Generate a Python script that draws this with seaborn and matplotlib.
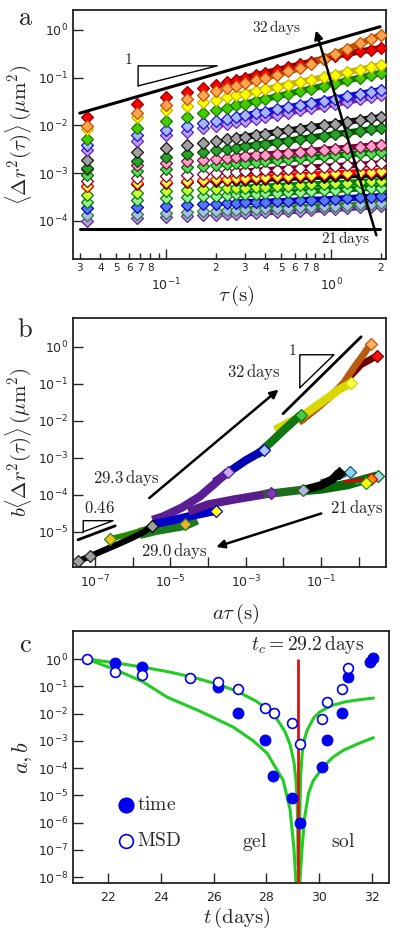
import numpy as np
import matplotlib
matplotlib.use("Agg")
import matplotlib.pyplot as plt
import seaborn as sns
from matplotlib.ticker import LogLocator, FuncFormatter, NullLocator, FixedLocator

# ---------------- panel a : MSD vs lag time ----------------
tau = [0.033, 0.067, 0.1, 0.133, 0.167, 0.2, 0.233, 0.267, 0.3, 0.35, 0.4, 0.467,
       0.55, 0.65, 0.75, 0.9, 1.05, 1.25, 1.5, 1.75, 2.0]

msd_orange = [0.0095, 0.0185, 0.027, 0.0352, 0.0437, 0.0518, 0.0597, 0.0679, 0.0757, 0.0875, 0.099,
              0.115, 0.134, 0.157, 0.192, 0.249, 0.311, 0.399, 0.518, 0.645, 0.78]
msd_red = [0.015, 0.0274, 0.0385, 0.049, 0.0594, 0.0693, 0.079, 0.0887, 0.098, 0.112, 0.125,
           0.143, 0.164, 0.189, 0.213, 0.249, 0.284, 0.315, 0.352, 0.385, 0.417]
msd_yellow = [0.0085, 0.015, 0.021, 0.0258, 0.0303, 0.0346, 0.0386, 0.0426, 0.0463, 0.0517, 0.0569,
              0.0636, 0.0716, 0.0807, 0.0895, 0.102, 0.114, 0.129, 0.147, 0.165, 0.18]
msd_green = [0.0051, 0.0089, 0.0121, 0.0151, 0.0181, 0.0208, 0.0234, 0.0261, 0.0286, 0.0322, 0.0357,
             0.0403, 0.0458, 0.0522, 0.0583, 0.0673, 0.0759, 0.0869, 0.100, 0.113, 0.125]
msd_blue = [0.0039, 0.0062, 0.0080, 0.0096, 0.0111, 0.0125, 0.0138, 0.0150, 0.0162, 0.0179, 0.0195,
            0.0215, 0.0239, 0.0267, 0.0292, 0.0329, 0.0363, 0.0407, 0.0457, 0.0505, 0.055]
msd_purple = [0.0030, 0.0048, 0.0062, 0.0074, 0.0086, 0.0097, 0.0107, 0.0116, 0.0126, 0.0139, 0.0151,
              0.0167, 0.0185, 0.0207, 0.0226, 0.0255, 0.0281, 0.0315, 0.0354, 0.0391, 0.0426]
msd_grey = [0.0019, 0.00272, 0.00332, 0.00383, 0.0043, 0.00471, 0.00508, 0.00544, 0.00577, 0.00624, 0.00667,
            0.00721, 0.00783, 0.00851, 0.00914, 0.0100, 0.0108, 0.0118, 0.0130, 0.0140, 0.015]
msd_dkgreen = [0.0013, 0.00181, 0.00218, 0.00249, 0.00277, 0.00301, 0.00324, 0.00344, 0.00364, 0.00391, 0.00416,
               0.00447, 0.00482, 0.00521, 0.00557, 0.00607, 0.00652, 0.00708, 0.00769, 0.00828, 0.0088]
msd_pink = [0.0012, 0.00147, 0.00165, 0.00179, 0.00191, 0.00201, 0.0021, 0.00219, 0.00226, 0.00236, 0.00245,
            0.00256, 0.00269, 0.00282, 0.00294, 0.0031, 0.00324, 0.0034, 0.00359, 0.00375, 0.0039]
msd_green2 = [0.0009, 0.00109, 0.00122, 0.00132, 0.00141, 0.00148, 0.00155, 0.00161, 0.00166, 0.00173, 0.0018,
              0.00188, 0.00196, 0.00205, 0.00214, 0.00225, 0.00235, 0.00246, 0.00259, 0.0027, 0.0028]
msd_white = [0.0007, 0.00081, 0.00087, 0.00092, 0.00097, 0.0010, 0.00104, 0.00106, 0.00109, 0.00112, 0.00115,
             0.00119, 0.00123, 0.00127, 0.00131, 0.00136, 0.0014, 0.00145, 0.0015, 0.00155, 0.0016]
msd_yelred = [0.00055, 0.00062, 0.00066, 0.0007, 0.00072, 0.00074, 0.00076, 0.00078, 0.0008, 0.00082, 0.00084,
              0.00086, 0.00088, 0.00091, 0.00093, 0.00096, 0.00099, 0.00102, 0.00105, 0.00107, 0.0011]
msd_black = [0.00054, 0.0006, 0.00062, 0.00066, 0.00067, 0.0007, 0.00071, 0.00072, 0.00073, 0.00076, 0.00077,
             0.00078, 0.0008, 0.00082, 0.00084, 0.00085, 0.00088, 0.0009, 0.00092, 0.00094, 0.00096]
msd_lime = [0.00035, 0.00039, 0.00042, 0.00044, 0.00046, 0.00047, 0.00048, 0.00049, 0.0005, 0.00051, 0.00052,
            0.00054, 0.00055, 0.00057, 0.00058, 0.0006, 0.00061, 0.00063, 0.00065, 0.00067, 0.00068]
msd_ltgreen = [0.00025, 0.00028, 0.0003, 0.00032, 0.00033, 0.00034, 0.00035, 0.00036, 0.00036, 0.00037, 0.00038,
               0.00039, 0.0004, 0.00041, 0.00042, 0.00044, 0.00045, 0.00046, 0.00048, 0.00049, 0.0005]
msd_blue2 = [0.00019, 0.0002, 0.00021, 0.00022, 0.00023, 0.00023, 0.00024, 0.00024, 0.00025, 0.00025, 0.00025,
             0.00026, 0.00026, 0.00027, 0.00028, 0.00028, 0.00029, 0.0003, 0.00031, 0.00032, 0.00033]
msd_steel = [0.00013, 0.00014, 0.00015, 0.000155, 0.00016, 0.000165, 0.00017, 0.000172, 0.000175, 0.00018, 0.000183,
             0.000187, 0.00019, 0.000195, 0.0002, 0.000205, 0.00021, 0.000215, 0.000222, 0.00023, 0.00024]
msd_lilac = [0.0001, 0.000113, 0.00012, 0.000126, 0.00013, 0.000134, 0.000138, 0.000141, 0.000144, 0.000148, 0.000152,
             0.000156, 0.00016, 0.000165, 0.00017, 0.000175, 0.00018, 0.000186, 0.000194, 0.0002, 0.00021]

# ---------------- panel b : master curves (a*tau, b*MSD) ----------------
bx_grey = [3.5e-8, 7.4e-8, 1.5e-7, 4e-7, 1e-6, 2e-6, 3.3e-6]
by_grey = [1.6e-6, 2.2e-6, 3e-6, 4.6e-6, 7e-6, 1e-5, 1.45e-5]
bx_greenyel = [3e-6, 1.5e-6, 6e-7, 2.5e-7]
by_greenyel = [1.3e-5, 1.05e-5, 8e-6, 6.5e-6]
bx_purple_up = [3.3e-6, 6.4e-6, 2e-5, 6e-5, 1.5e-4, 3.3e-4]
by_purple_up = [2.1e-5, 2.6e-5, 4.5e-5, 9e-5, 2e-4, 4.2e-4]
bx_blue_up = [1.5e-4, 4e-4, 1e-3, 3e-3]
by_blue_up = [2.2e-4, 4.5e-4, 8.5e-4, 1.6e-3]
bx_green_up = [2e-3, 5e-3, 1.2e-2, 2.9e-2]
by_green_up = [1.2e-3, 2.8e-3, 6.5e-3, 1.45e-2]
bx_yellow_up = [6e-3, 0.035, 0.1, 0.3, 0.63]
by_yellow_up = [5.7e-3, 0.0145, 0.031, 0.069, 0.106]
bx_orange_up = [0.026, 0.08, 0.2, 0.41, 0.8, 1.4, 2.1]
by_orange_up = [0.009, 0.022, 0.05, 0.11, 0.3, 0.65, 1.2]
bx_red_up = [0.03, 0.1, 0.3, 0.6, 1.17, 3.1]
by_red_up = [0.01, 0.028, 0.07, 0.16, 0.33, 0.57]
bx_green_lo = [1.5e-6, 4e-6, 1e-5, 2.5e-5, 5e-5]
by_green_lo = [9e-6, 1.15e-5, 1.35e-5, 1.6e-5, 2.2e-5]
bx_blue_lo = [3.5e-6, 1e-5, 3e-5, 8e-5, 1.6e-4]
by_blue_lo = [1.6e-5, 2e-5, 2.6e-5, 3.2e-5, 3.7e-5]
bx_purple_lo = [3e-5, 1e-4, 5e-4, 2e-3, 4.6e-3]
by_purple_lo = [3.5e-5, 5.5e-5, 7.5e-5, 9.5e-5, 1.1e-4]
bx_dkgreen_lo = [3e-3, 8e-3, 0.033]
by_dkgreen_lo = [1.05e-4, 1.15e-4, 1.37e-4]
bx_green2_lo = [0.03, 0.1, 0.5, 1.5, 3.2]
by_green2_lo = [1.3e-4, 1.45e-4, 1.9e-4, 2.6e-4, 3.2e-4]
bx_black_lo = [0.04, 0.1, 0.2, 0.3]
by_black_lo = [1.4e-4, 1.8e-4, 2.6e-4, 3.9e-4]
bx_teal_lo = [0.1, 0.3, 0.59]
by_teal_lo = [2.2e-4, 3e-4, 4.2e-4]
bx_red_lo = [0.4, 1.0, 2.2]
by_red_lo = [2.3e-4, 2.5e-4, 2.7e-4]
bx_yellow_lo = [0.8, 1.6]
by_yellow_lo = [2.0e-4, 2.1e-4]

# ---------------- panel c : shift factors vs age ----------------
t_time = [22.27, 23.29, 26.17, 26.93, 27.96, 28.26, 28.98, 29.29, 30.12, 30.31, 30.88, 31.11, 31.94, 32.06]
ab_time = [0.71, 0.51, 0.093, 0.0103, 1.05e-3, 5e-5, 7.8e-6, 1e-6, 1.07e-4, 1.05e-3, 0.0103, 0.22, 0.78, 1.1]
t_msd = [21.20, 22.27, 23.29, 25.11, 26.17, 26.93, 27.96, 28.30, 28.98, 29.29, 30.12, 30.31, 30.88, 31.11]
ab_msd = [1.0, 0.33, 0.26, 0.2, 0.14, 0.079, 0.016, 0.0103, 0.0045, 7.5e-4, 0.0062, 0.026, 0.079, 0.47]
t_c = 29.2
fit_gel_b_t = [21.2, 22.3, 23.3, 24.3, 25.2, 26.2, 26.9, 27.6, 28.0, 28.4, 28.7, 28.9, 29.05, 29.12, 29.16, 29.18, 29.19, 29.197]
fit_gel_b_v = [1.0, 0.72, 0.51, 0.34, 0.218, 0.116, 0.065, 0.029, 0.0154, 0.0063, 0.00224, 7.3e-4, 1.6e-4, 4e-5,
               8.7e-6, 1.9e-6, 4.1e-7, 2.9e-8]
fit_gel_a_t = [21.2, 22.3, 23.3, 24.24, 25.5, 26.74, 27.5, 28.03, 28.64, 28.9, 29.05, 29.12]
fit_gel_a_v = [1.0, 0.4, 0.15, 0.04, 0.012, 3.2e-3, 1.0e-3, 3.5e-4, 3.5e-5, 3e-6, 1e-7, 7e-9]
fit_sol_b_t = [29.24, 29.26, 29.3, 29.36, 29.45, 29.55, 29.8, 30.05, 30.5, 31.0, 31.5, 32.06]
fit_sol_b_v = [7e-9, 1e-6, 5e-5, 3.5e-4, 1.2e-3, 2.5e-3, 7e-3, 0.012, 0.02, 0.027, 0.032, 0.037]
fit_sol_a_t = [29.27, 29.35, 29.45, 29.6, 29.78, 30.16, 30.5, 30.92, 31.5, 32.06]
fit_sol_a_v = [7e-9, 1e-7, 1.5e-6, 1.2e-5, 3.5e-5, 1.1e-4, 2.4e-4, 4.5e-4, 8e-4, 1.3e-3]

# ---------------- styles ----------------
face_a = ['#ffa54f', '#ff0000', '#ffff00', '#44cc00', '#aab4ff', '#b9a0ff', '#a0a0a0', '#2ca02c', '#ff9ec8',
          '#55dd55', '#ffffff', '#ffff40', '#000000', '#ccff33', '#98f098', '#5577ff', '#a6c0e8', '#b399e6']
edge_a = ['#c05000', '#8b0000', '#c8b400', '#1a7a00', '#1010d0', '#6a1fb0', '#111111', '#005000', '#7a0a3c',
          '#007000', '#700030', '#ff0000', '#000000', '#008000', '#007a00', '#0000b0', '#2e7d32', '#5b2c8f']

sns.set_style("ticks")
plt.rcParams['mathtext.fontset'] = 'cm'
plt.rcParams['font.family'] = ['DejaVu Sans']


def dec_fmt(v, pos):
    e = int(round(np.log10(v)))
    return r'$\mathregular{10^{%d}}$' % e


def odd_dec_fmt(v, pos):
    e = int(round(np.log10(v)))
    return r'$\mathregular{10^{%d}}$' % e if e % 2 != 0 else ''


def digit_fmt(v, pos):
    d = int(round(v / 10 ** np.floor(np.log10(v) + 1e-9)))
    return '%d' % d if 2 <= d <= 8 else ''


def style_ax(ax):
    for s in ax.spines.values():
        s.set_visible(True)
        s.set_linewidth(1.3)
        s.set_color('#222222')
    ax.tick_params(which='both', direction='in', top=False, right=False, labelsize=9, width=1.0)
    ax.tick_params(which='major', length=7)
    ax.tick_params(which='minor', length=4)


fig = plt.figure(figsize=(4.0, 9.39), dpi=100)
ax_a = fig.add_axes([0.1825, 0.7242, 0.7825, 0.2652])
ax_b = fig.add_axes([0.1825, 0.3962, 0.7825, 0.2652])
ax_c = fig.add_axes([0.1825, 0.0596, 0.79, 0.2684])

# ---- panel a
ax = ax_a
ax.set_xscale('log')
ax.set_yscale('log')
msd_a = [msd_orange, msd_red, msd_yellow, msd_green, msd_blue, msd_purple, msd_grey, msd_dkgreen, msd_pink,
         msd_green2, msd_white, msd_yelred, msd_black, msd_lime, msd_ltgreen, msd_blue2, msd_steel, msd_lilac]
order = list(range(len(msd_a)))[::-1]
for i in order:
    sns.lineplot(x=tau[7:], y=msd_a[i][7:], ax=ax, color=edge_a[i], lw=4.5, sort=False,
                 estimator=None, legend=False, zorder=2)
for i in order:
    sns.lineplot(x=tau, y=msd_a[i], ax=ax, lw=0, marker='D', markersize=6, markerfacecolor=face_a[i],
                 markeredgecolor=edge_a[i], markeredgewidth=0.9, sort=False, estimator=None,
                 legend=False, zorder=3)
ax.plot([0.030, 1.98], [0.018, 1.16], color='black', lw=2.2, zorder=5)
ax.plot([0.030, 1.98], [6.8e-5, 6.8e-5], color='black', lw=2.2, zorder=5)
ax.plot([0.0677, 0.0677, 0.204, 0.0677], [0.067, 0.176, 0.176, 0.067], color='black', lw=1.0, zorder=5)
ax.text(0.176, 0.803, r'$1$', transform=ax.transAxes, fontsize=11, ha='center', va='center')
ax.annotate('', xy=(0.80, 1.1), xytext=(1.90, 4.4e-5),
            arrowprops=dict(arrowstyle='-|>', color='black', lw=1.8, mutation_scale=12), zorder=6)
ax.text(0.652, 0.928, r'$32\,\mathrm{days}$', transform=ax.transAxes, fontsize=11, ha='center', va='center')
ax.text(0.872, 0.084, r'$21\,\mathrm{days}$', transform=ax.transAxes, fontsize=11, ha='center', va='center')
ax.set_xlim(0.0273, 2.15)
ax.set_ylim(1.6e-5, 2.6)
ax.xaxis.set_major_locator(LogLocator(base=10))
ax.xaxis.set_minor_locator(LogLocator(base=10, subs=np.arange(2, 10)))
ax.xaxis.set_major_formatter(FuncFormatter(dec_fmt))
ax.xaxis.set_minor_formatter(FuncFormatter(digit_fmt))
ax.yaxis.set_major_locator(FixedLocator([1e-4, 1e-3, 1e-2, 1e-1, 1e0]))
ax.yaxis.set_major_formatter(FuncFormatter(dec_fmt))
ax.yaxis.set_minor_locator(NullLocator())
style_ax(ax)
ax.tick_params(axis='x', which='major', pad=13)
ax.tick_params(axis='x', which='minor', pad=3, labelsize=7.5)
ax.set_xlabel(r'$\tau\,(\mathrm{s})$', fontsize=15)
ax.set_ylabel(r'$\langle\Delta r^2(\tau)\rangle\,(\mu\mathrm{m}^2)$', fontsize=15)
ax.xaxis.set_label_coords(0.52, -0.10)
ax.yaxis.set_label_coords(-0.125, 0.5)

# ---- panel b
ax = ax_b
ax.set_xscale('log')
ax.set_yscale('log')
segs_b = [
    (bx_red_up, by_red_up, '#ff1010', '#700000', 5, -1),
    (bx_orange_up, by_orange_up, '#ffb060', '#b85a10', 5, -1),
    (bx_yellow_up, by_yellow_up, '#ffff50', '#d8d800', 6, -1),
    (bx_green_up, by_green_up, '#44cc44', '#117711', 6, -1),
    (bx_blue_up, by_blue_up, '#a8c8ff', '#0000b4', 6, -1),
    (bx_purple_up, by_purple_up, '#c8a8f0', '#5a1e96', 6, -1),
    (bx_green_lo, by_green_lo, '#f0b030', '#1e7a1e', 8, 3),
    (bx_blue_lo, by_blue_lo, '#ffff00', '#0000c8', 6, -1),
    (bx_purple_lo, by_purple_lo, '#7a3ab0', '#5a1e8c', 6, -1),
    (bx_dkgreen_lo, by_dkgreen_lo, '#c0b0e8', '#1e6e1e', 6, -1),
    (bx_green2_lo, by_green2_lo, '#a8d8f0', '#0a6a0a', 7, -1),
    (bx_teal_lo, by_teal_lo, '#8ad8f8', '#1a5a7a', 4, -1),
    (bx_black_lo, by_black_lo, '#000000', '#000000', 6, -1),
    (bx_red_lo, by_red_lo, '#ff8c00', '#e00000', 2, -1),
    (bx_yellow_lo, by_yellow_lo, '#ffff00', '#2a8a2a', 2, -1),
    (bx_greenyel, by_greenyel, '#f0c020', '#2a8a00', 4, -1),
    (bx_grey, by_grey, '#a0a0a0', '#000000', 4.5, -1),
]
for xs, ys, fc, ec, lw, k in segs_b:
    sns.lineplot(x=xs, y=ys, ax=ax, color=ec, lw=lw, sort=False, estimator=None, legend=False,
                 solid_capstyle='butt', zorder=2)
    sns.lineplot(x=[xs[k]], y=[ys[k]], ax=ax, lw=0, marker='D', markersize=6, markerfacecolor=fc,
                 markeredgecolor=ec, markeredgewidth=0.9, estimator=None, legend=False, zorder=3)
sns.lineplot(x=bx_grey[:2], y=by_grey[:2], ax=ax, lw=0, marker='D', markersize=6, markerfacecolor='#a0a0a0',
             markeredgecolor='#222222', markeredgewidth=0.9, estimator=None, legend=False, zorder=3)
ax.plot([0.0098, 1.17], [0.0155, 1.86], color='black', lw=2.0, zorder=5)
ax.plot([0.0275, 0.0275, 0.222, 0.0275], [0.078, 0.61, 0.61, 0.078], color='black', lw=1.0, zorder=5)
ax.text(0.70, 0.871, r'$1$', transform=ax.transAxes, fontsize=11, ha='center', va='center')
ax.annotate('', xy=(8.5e-3, 0.078), xytext=(2.4e-6, 7.3e-5),
            arrowprops=dict(arrowstyle='-|>', color='black', lw=1.8, mutation_scale=12), zorder=6)
ax.annotate('', xy=(1.4e-4, 3.7e-6), xytext=(0.12, 3.3e-5),
            arrowprops=dict(arrowstyle='-|>', color='black', lw=1.8, mutation_scale=12), zorder=6)
ax.plot([4.8e-8, 4.8e-8, 3e-7, 4.8e-8], [1e-5, 2e-5, 2e-5, 1e-5], color='black', lw=1.0, zorder=5)
ax.plot([3.5e-8, 3.4e-7], [6.1e-6, 1.45e-5], color='black', lw=2.0, zorder=5)
ax.text(0.578, 0.783, r'$32\,\mathrm{days}$', transform=ax.transAxes, fontsize=12, ha='center', va='center')
ax.text(0.169, 0.357, r'$29.3\,\mathrm{days}$', transform=ax.transAxes, fontsize=12, ha='center', va='center')
ax.text(0.086, 0.237, r'$0.46$', transform=ax.transAxes, fontsize=12, ha='center', va='center')
ax.text(0.907, 0.237, r'$21\,\mathrm{days}$', transform=ax.transAxes, fontsize=12, ha='center', va='center')
ax.text(0.323, 0.064, r'$29.0\,\mathrm{days}$', transform=ax.transAxes, fontsize=12, ha='center', va='center')
ax.set_xlim(10 ** -7.59, 10 ** 0.73)
ax.set_ylim(10 ** -5.95, 10 ** 0.78)
ax.xaxis.set_major_locator(FixedLocator([10.0 ** e for e in range(-7, 1)]))
ax.xaxis.set_major_formatter(FuncFormatter(odd_dec_fmt))
ax.xaxis.set_minor_locator(NullLocator())
ax.yaxis.set_major_locator(FixedLocator([10.0 ** e for e in range(-5, 1)]))
ax.yaxis.set_major_formatter(FuncFormatter(dec_fmt))
ax.yaxis.set_minor_locator(NullLocator())
style_ax(ax)
ax.tick_params(axis='x', pad=5)
ax.set_xlabel(r'$a\tau\,(\mathrm{s})$', fontsize=15)
ax.set_ylabel(r'$b\langle\Delta r^2(\tau)\rangle\,(\mu\mathrm{m}^2)$', fontsize=15)
ax.xaxis.set_label_coords(0.52, -0.14)
ax.yaxis.set_label_coords(-0.125, 0.5)

# ---- panel c
ax = ax_c
ax.set_yscale('log')
green = '#22cc22'
for tt, vv in [(fit_gel_b_t, fit_gel_b_v), (fit_gel_a_t, fit_gel_a_v),
               (fit_sol_b_t, fit_sol_b_v), (fit_sol_a_t, fit_sol_a_v)]:
    sns.lineplot(x=tt, y=vv, ax=ax, color=green, lw=2.2, sort=False, estimator=None, legend=False, zorder=2)
ax.vlines(t_c, 1e-9, 1.0, color='#dd1111', lw=2.0, zorder=3)
sns.scatterplot(x=t_time, y=ab_time, ax=ax, s=60, color='#0000ee', edgecolor='#0000ee', linewidth=0.8,
                label=r'$\mathrm{time}$', zorder=4)
sns.scatterplot(x=t_msd, y=ab_msd, ax=ax, s=50, facecolor='white', edgecolor='#0000ee', linewidth=1.2,
                label=r'$\mathrm{MSD}$', zorder=5)
ax.set_xlim(20.67, 32.65)
ax.set_ylim(10 ** -8.22, 10 ** 1.03)
ax.xaxis.set_major_locator(FixedLocator([22, 24, 26, 28, 30, 32]))
ax.xaxis.set_major_formatter(FuncFormatter(lambda v, p: '%d' % v))
ax.yaxis.set_major_locator(FixedLocator([10.0 ** e for e in range(-8, 1)]))
ax.yaxis.set_major_formatter(FuncFormatter(dec_fmt))
ax.yaxis.set_minor_locator(NullLocator())
style_ax(ax)
ax.tick_params(axis='x', pad=6)
ax.text(0.741, 0.944, r'$t_c = 29.2\,\mathrm{days}$', transform=ax.transAxes, fontsize=14,
        ha='center', va='center')
ax.text(0.576, 0.163, r'$\mathrm{gel}$', transform=ax.transAxes, fontsize=14, ha='center', va='center')
ax.text(0.854, 0.163, r'$\mathrm{sol}$', transform=ax.transAxes, fontsize=14, ha='center', va='center')
leg = ax.legend(loc='center left', bbox_to_anchor=(0.08, 0.24), frameon=False, fontsize=14,
                handletextpad=0.1, labelspacing=0.9, handlelength=1.0, markerscale=1.4)
ax.set_xlabel(r'$t\,(\mathrm{days})$', fontsize=15)
ax.set_ylabel(r'$a, b$', fontsize=16)
ax.xaxis.set_label_coords(0.52, -0.09)
ax.yaxis.set_label_coords(-0.125, 0.5)

for lab, yy in [('a', 18), ('b', 330), ('c', 645)]:
    fig.text(25 / 400, 1 - yy / 939, r'$\mathrm{%s}$' % lab, fontsize=19, ha='center', va='center')

fig.savefig('out.png', dpi=100)
